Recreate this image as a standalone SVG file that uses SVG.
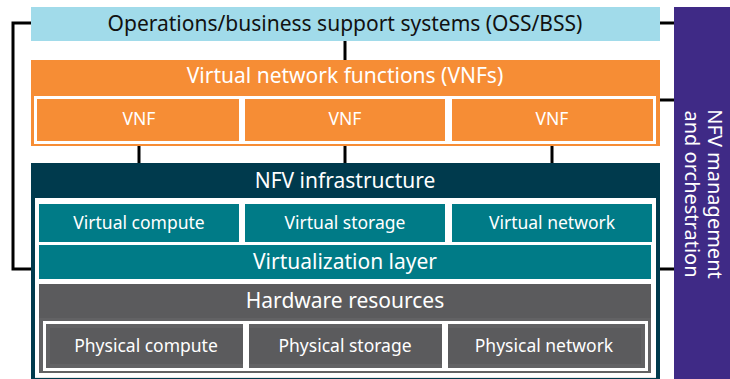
<svg xmlns="http://www.w3.org/2000/svg" width="730" height="379" viewBox="0 0 730 379">
<style>
text{font-family:"Noto Sans","Open Sans","Liberation Sans",sans-serif;text-anchor:middle;fill:#fff}
.big{font-size:21px}
.sm{font-size:17.5px}
.side{font-size:20px}
.dark{fill:#111}
.orange{fill:#f68d35}
.teal{fill:#007b87}
.gray{fill:#5b5b5d}
.ring{fill:none;stroke:#fff;stroke-width:3}
.conn{stroke:#000;stroke-width:3;fill:none}
</style>
<rect width="730" height="379" fill="#fff"/>
<g id="connectors">
<polyline class="conn" points="31,23 13,23 13,269 34,269"/>
<line class="conn" x1="660" y1="23" x2="674" y2="23"/>
<line class="conn" x1="656" y1="100" x2="674" y2="100"/>
<line class="conn" x1="656" y1="269" x2="674" y2="269"/>
<line class="conn" x1="345" y1="41" x2="345" y2="60"/>
<line class="conn" x1="139" y1="137" x2="139" y2="163"/>
<line class="conn" x1="345" y1="137" x2="345" y2="163"/>
<line class="conn" x1="552" y1="137" x2="552" y2="163"/>
</g>
<g id="oss">
<rect x="31" y="7" width="629" height="34" fill="#a1dbea"/>
<text class="big dark" x="345" y="31">Operations/business support systems (OSS/BSS)</text>
</g>
<g id="vnfs">
<rect class="orange" x="31" y="60" width="629" height="86"/>
<text class="big" x="345" y="83">Virtual network functions (VNFs)</text>
<rect class="ring" x="35.5" y="97.5" width="619" height="45"/>
<rect x="239" y="97" width="6" height="45" fill="#fff"/>
<rect x="445" y="97" width="7" height="45" fill="#fff"/>
</g>
<g id="vnf1"><rect class="orange" x="39" y="100" width="200" height="37"/><text class="sm" x="139" y="125">VNF</text></g>
<g id="vnf2"><rect class="orange" x="245" y="100" width="200" height="37"/><text class="sm" x="345" y="125">VNF</text></g>
<g id="vnf3"><rect class="orange" x="452" y="100" width="200" height="37"/><text class="sm" x="552" y="125">VNF</text></g>
<g id="nfvi">
<rect x="31" y="163" width="629" height="216" fill="#003a4d"/>
<rect x="35" y="198" width="621" height="179" fill="#fff"/>
<line x1="35" y1="377.5" x2="656" y2="377.5" stroke="#e6e6e6" stroke-width="1"/>
<text class="big" x="345" y="188">NFV infrastructure</text>
</g>
<g id="vcompute"><rect class="teal" x="39" y="204" width="200" height="38"/><text class="sm" x="139" y="229">Virtual compute</text></g>
<g id="vstorage"><rect class="teal" x="245" y="204" width="200" height="38"/><text class="sm" x="345" y="229">Virtual storage</text></g>
<g id="vnetwork"><rect class="teal" x="452" y="204" width="200" height="38"/><text class="sm" x="552" y="229">Virtual network</text></g>
<g id="virtlayer"><rect class="teal" x="39" y="245" width="612" height="34"/><text class="big" x="345" y="269">Virtualization layer</text></g>
<g id="hardware">
<rect class="gray" x="39" y="284" width="612" height="89"/>
<rect x="39" y="318" width="612" height="55" fill="#626264"/>
<rect class="ring" x="44.5" y="322.5" width="602" height="47"/>
<rect x="243" y="322" width="6" height="48" fill="#fff"/>
<rect x="442" y="322" width="6" height="48" fill="#fff"/>
<text class="big" x="345" y="308">Hardware resources</text>
</g>
<g id="pcompute"><rect class="gray" x="50" y="328" width="193" height="36"/><text class="sm" x="146" y="352">Physical compute</text></g>
<g id="pstorage"><rect class="gray" x="249" y="328" width="193" height="36"/><text class="sm" x="345" y="352">Physical storage</text></g>
<g id="pnetwork"><rect class="gray" x="448" y="328" width="193" height="36"/><text class="sm" x="544" y="352">Physical network</text></g>
<g id="mano">
<rect x="674" y="7" width="56" height="372" fill="#3f2a86"/>
<text class="side" transform="translate(708,194) rotate(90)">NFV management</text>
<text class="side" transform="translate(685,194) rotate(90)">and orchestration</text>
</g>
</svg>
